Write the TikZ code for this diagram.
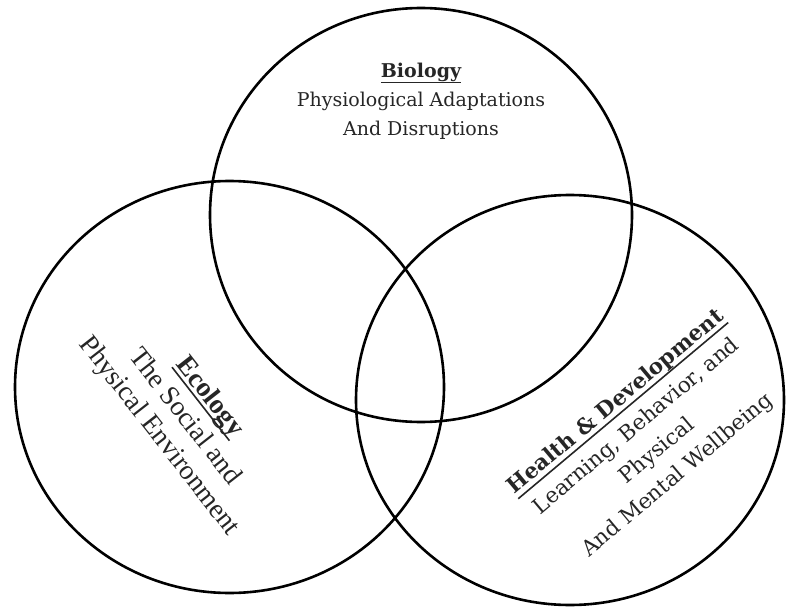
\documentclass[tikz,border=0pt]{standalone}
\usepackage{fontspec}
\setmainfont{DejaVu Serif}
\newfontfamily\ecofont{Liberation Serif}
\usepackage{tikz}
\newcommand{\headul}[2][-6pt]{\setbox0\hbox{\bfseries #2}\leavevmode\rlap{\rule[#1]{\wd0}{1.6pt}}\box0}
\tikzset{
  venn/.style={line width=2.6pt},
  biotext/.style={align=center,text=black!85,font=\fontsize{19}{29}\selectfont},
  ecotext/.style={align=center,text=black!85,rotate=-52,font=\ecofont\fontsize{27.5}{32}\selectfont},
  hdtext/.style={align=center,text=black!85,rotate=40,font=\fontsize{21.5}{32}\selectfont}
}
\begin{document}
\begin{tikzpicture}[x=1pt,y=-1pt]
\useasboundingbox (0,0) rectangle (788,610);
%circles
\draw[venn](421,215) ellipse (211 and 207);
\draw[venn](229.5,387) ellipse (214.5 and 206);
\draw[venn](570,400) ellipse (214 and 205);
%labels
\node[biotext](bio) at (421,101){\headul{Biology}\\Physiological Adaptations\\And Disruptions};
\node[ecotext](eco) at (184,417){\headul[-5pt]{Ecology}\\The Social and\\Physical Environment};
\node[hdtext](hd) at (647,439){\headul{Health \& Development}\\Learning, Behavior, and\\Physical\\And Mental Wellbeing};
\end{tikzpicture}
\end{document}
